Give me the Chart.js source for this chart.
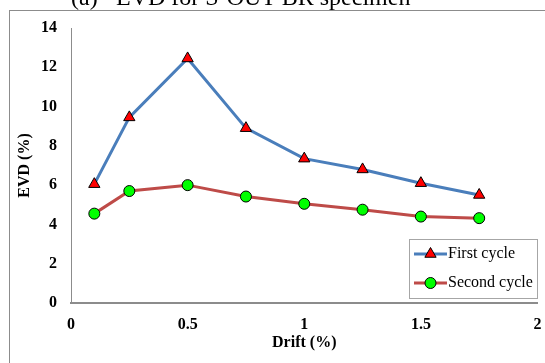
<!DOCTYPE html>
<html>
<head>
<meta charset="utf-8">
<script src="https://cdn.jsdelivr.net/npm/chart.js@4.4.0/dist/chart.umd.min.js"></script>
<style>
  html, body { margin: 0; padding: 0; background: #ffffff; }
  #wrap { width: 545px; height: 363px; position: relative; }
</style>
</head>
<body>
<div id="wrap"><canvas id="c" width="545" height="363"></canvas></div>
<script>
const drift = [0.1, 0.25, 0.5, 0.75, 1.0, 1.25, 1.5, 1.75];
const firstCycle = [6.05, 9.45, 12.45, 8.9, 7.35, 6.8, 6.1, 5.5];
const secondCycle = [4.55, 5.7, 6.0, 5.42, 5.05, 4.75, 4.4, 4.32];
const seriesNames = ['First cycle', 'Second cycle'];
const titleLabel = '(a)';
const titleText = 'EVD for S-OUT-BR specimen';
const xTitle = 'Drift (%)';
const yTitle = 'EVD (%)';

const serif = "'Liberation Serif', 'Times New Roman', serif";

const frame = {
  id: 'frame',
  beforeDraw(chart) {
    const ctx = chart.ctx;
    ctx.save();
    ctx.fillStyle = '#ffffff';
    ctx.fillRect(0, 0, chart.width, chart.height);
    ctx.strokeStyle = '#8c8c8c';
    ctx.lineWidth = 1;
    ctx.strokeRect(9.5, 10.5, 700, 500);
    ctx.fillStyle = '#000000';
    ctx.font = '24px ' + serif;
    ctx.textBaseline = 'alphabetic';
    ctx.textAlign = 'left';
    ctx.fillText(titleLabel, 71, 5);
    ctx.fillText(titleText, 116, 5);
    ctx.restore();
  },
  afterDraw(chart) {
    const ctx = chart.ctx;
    ctx.save();
    const bx = 409.5, by = 239.5, bw = 128, bh = 59;
    ctx.fillStyle = '#ffffff';
    ctx.fillRect(bx, by, bw, bh);
    ctx.strokeStyle = '#a6a6a6';
    ctx.lineWidth = 1;
    ctx.strokeRect(bx, by, bw, bh);
    const rows = [254, 283];
    chart.data.datasets.forEach((ds, i) => {
      const y = rows[i];
      ctx.strokeStyle = ds.borderColor;
      ctx.lineWidth = ds.borderWidth;
      ctx.beginPath();
      ctx.moveTo(414, y);
      ctx.lineTo(447, y);
      ctx.stroke();
      ctx.fillStyle = ds.pointBackgroundColor;
      ctx.strokeStyle = ds.pointBorderColor;
      ctx.lineWidth = ds.pointBorderWidth;
      ctx.beginPath();
      if (ds.pointStyle === 'triangle') {
        const r = ds.pointRadius;
        ctx.moveTo(430.5, y - r);
        ctx.lineTo(430.5 + r * Math.sin(2 * Math.PI / 3), y - r * Math.cos(2 * Math.PI / 3));
        ctx.lineTo(430.5 + r * Math.sin(4 * Math.PI / 3), y - r * Math.cos(4 * Math.PI / 3));
        ctx.closePath();
      } else {
        ctx.arc(430.5, y, ds.pointRadius, 0, Math.PI * 2);
      }
      ctx.fill();
      ctx.stroke();
      ctx.fillStyle = '#000000';
      ctx.font = '16px ' + serif;
      ctx.textBaseline = 'middle';
      ctx.textAlign = 'left';
      ctx.fillText(ds.label, 448, y);
    });
    ctx.restore();
  }
};

new Chart(document.getElementById('c'), {
  type: 'scatter',
  data: {
    datasets: [
      {
        label: seriesNames[0],
        data: drift.map((x, i) => ({ x: x, y: firstCycle[i] })),
        showLine: true,
        borderColor: '#4A7EBB',
        borderWidth: 3,
        pointStyle: 'triangle',
        pointRadius: 6.5,
        pointBackgroundColor: '#FF0000',
        pointBorderColor: '#000000',
        pointBorderWidth: 1
      },
      {
        label: seriesNames[1],
        data: drift.map((x, i) => ({ x: x, y: secondCycle[i] })),
        showLine: true,
        borderColor: '#BE4B48',
        borderWidth: 3,
        pointStyle: 'circle',
        pointRadius: 5.5,
        pointBackgroundColor: '#00FF00',
        pointBorderColor: '#000000',
        pointBorderWidth: 1
      }
    ]
  },
  options: {
    responsive: false,
    animation: false,
    devicePixelRatio: 1,
    layout: { padding: { top: 28, right: 6, left: 0, bottom: 0 } },
    plugins: {
      legend: { display: false },
      tooltip: { enabled: false },
      title: { display: false }
    },
    scales: {
      x: {
        type: 'linear',
        min: 0,
        max: 2,
        ticks: {
          stepSize: 0.5,
          padding: 12,
          color: '#000000',
          font: { family: serif, size: 16, weight: 'bold' },
          callback: v => String(v)
        },
        grid: { display: false, drawTicks: false },
        border: { display: true, color: '#8c8c8c', width: 2 },
        title: {
          display: true,
          text: xTitle,
          color: '#000000',
          font: { family: serif, size: 16, weight: 'bold' },
          padding: { top: 0, bottom: 11 }
        },
        afterFit(scale) { scale.height = 60; scale.paddingRight = 0; scale.paddingLeft = 0; }
      },
      y: {
        type: 'linear',
        min: 0,
        max: 14,
        ticks: {
          stepSize: 2,
          padding: 14,
          color: '#000000',
          font: { family: serif, size: 16, weight: 'bold' }
        },
        grid: { display: false, drawTicks: false },
        border: { display: true, color: '#8c8c8c', width: 1 },
        title: {
          display: true,
          text: yTitle,
          color: '#000000',
          font: { family: serif, size: 16, weight: 'bold' },
          padding: { top: 15, bottom: 0 }
        },
        afterFit(scale) { scale.width = 71; scale.paddingTop = 0; scale.paddingBottom = 0; }
      }
    }
  },
  plugins: [frame]
});
</script>
</body>
</html>
